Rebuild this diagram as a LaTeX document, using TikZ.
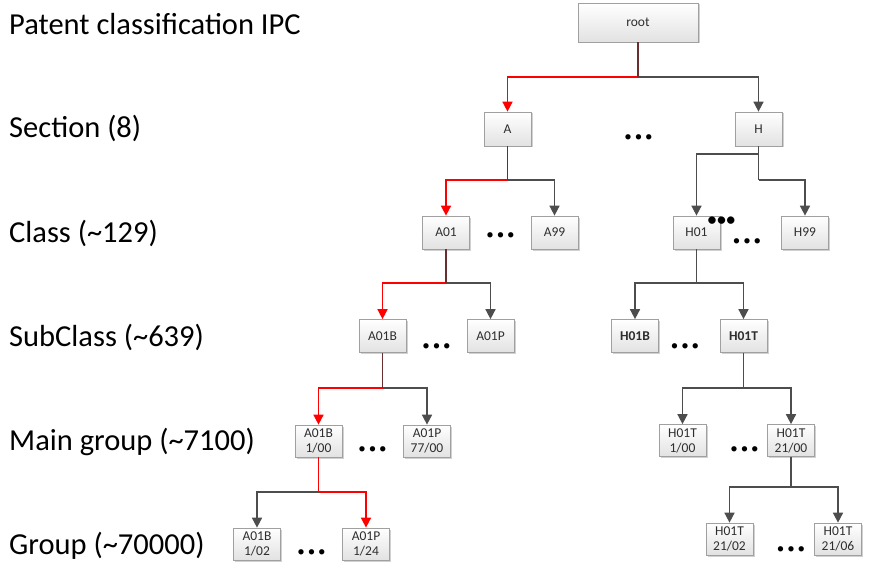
\documentclass[tikz,border=0pt]{standalone}
\usepackage{fontspec}
\setmainfont{Carlito}
\usetikzlibrary{arrows.meta,shadows}
\definecolor{linegray}{HTML}{4D4D4D}
\definecolor{pathred}{HTML}{FF0000}
\definecolor{stembrown}{HTML}{6A2E2E}
\definecolor{boxborder}{HTML}{A0A0A0}
\definecolor{boxbottom}{HTML}{E2E2E2}
\definecolor{boxtext}{HTML}{2E2E2E}
\begin{document}
\begin{tikzpicture}[x=1pt,y=-1pt,
  box/.style={draw=boxborder, line width=0.7pt, top color=white, bottom color=boxbottom,
    drop shadow={shadow xshift=1.5pt, shadow yshift=-1.5pt, fill=black!30, opacity=0.6},
    minimum width=47pt, minimum height=33pt, inner sep=1pt, align=center,
    font=\fontsize{13.5}{15}\selectfont, text=boxtext},
  lvl/.style={anchor=base west, inner sep=0pt, font=\fontsize{30.5}{32}\selectfont},
  dotsnode/.style={inner sep=0pt, font=\fontsize{15}{15}\selectfont},
  bigdots/.style={inner sep=0pt, font=\fontsize{21}{21}\selectfont},
  gline/.style={draw=linegray, line width=1.6pt},
  garr/.style={gline, -{Triangle[width=10pt,length=10pt]}},
  rline/.style={draw=pathred, line width=1.6pt},
  rarr/.style={rline, -{Triangle[width=10pt,length=10pt]}},
  bline/.style={draw=stembrown, line width=1.6pt}]
\useasboundingbox (0,0) rectangle (875,572);

% level labels
\node[lvl] (lblipc) at (9,34.5) {Patent classification IPC};
\node[lvl] (lblsec) at (9,138) {Section (8)};
\node[lvl] (lblcls) at (9,242.5) {Class (\textasciitilde129)};
\node[lvl] (lblsub) at (9,346) {SubClass (\textasciitilde639)};
\node[lvl] (lblmain) at (9,450.5) {Main group (\textasciitilde7100)};
\node[lvl] (lblgrp) at (9,554) {Group (\textasciitilde70000)};

% nodes
\node[box, minimum width=120pt, minimum height=39pt] (root) at (638,22.5) {root};
\node[box, minimum height=34pt] (A) at (507.5,129) {A};
\node[box, minimum height=34pt] (H) at (758.5,129) {H};
\node[box] (A01) at (446,232.5) {A01};
\node[box] (A99) at (554.5,232.5) {A99};
\node[box] (H01) at (696.5,232.5) {H01};
\node[box] (H99) at (805,232.5) {H99};
\node[box] (A01B) at (382.5,336) {A01B};
\node[box] (A01P) at (490.5,336) {A01P};
\node[box] (H01B) at (635,336) {\bfseries H01B};
\node[box] (H01T) at (743.5,336) {\bfseries H01T};
\node[box, minimum height=32pt] (A01Bm) at (318.5,441) {A01B\\1/00};
\node[box, minimum height=32pt] (A01Pm) at (427,441) {A01P\\77/00};
\node[box, minimum height=32pt] (H01Tm1) at (682.5,440.5) {H01T\\1/00};
\node[box, minimum height=32pt] (H01Tm21) at (791,440.5) {H01T\\21/00};
\node[box, minimum height=32pt] (A01Bg) at (257,544) {A01B\\1/02};
\node[box, minimum height=32pt] (A01Pg) at (366,544) {A01P\\1/24};
\node[box, minimum height=32pt] (H01Tg2) at (729.5,539) {H01T\\21/02};
\node[box, minimum height=32pt] (H01Tg6) at (838,539) {H01T\\21/06};

% ellipses
\node[dotsnode] (d1) at (638.5,138) {•\hspace{3pt}•\hspace{3pt}•};
\node[dotsnode] (d2) at (500.5,236) {•\hspace{3pt}•\hspace{3pt}•};
\node[bigdots] (d3) at (721.5,222) {•\hspace{-1pt}•\hspace{-1pt}•};
\node[dotsnode] (d4) at (747,242) {•\hspace{3pt}•\hspace{3pt}•};
\node[dotsnode] (d5) at (436.5,347) {•\hspace{3pt}•\hspace{3pt}•};
\node[dotsnode] (d6) at (685,347) {•\hspace{3pt}•\hspace{3pt}•};
\node[dotsnode] (d7) at (372.5,450) {•\hspace{3pt}•\hspace{3pt}•};
\node[dotsnode] (d8) at (744.5,450) {•\hspace{3pt}•\hspace{3pt}•};
\node[dotsnode] (d9) at (311.5,553) {•\hspace{3pt}•\hspace{3pt}•};
\node[dotsnode] (d10) at (791,550) {•\hspace{3pt}•\hspace{3pt}•};

% junctions
\coordinate (jroot) at (638,77);
\coordinate (jA) at (507.5,180);
\coordinate (jH1) at (758.5,154);
\coordinate (jH2) at (758.5,180);
\coordinate (jA01) at (446,283);
\coordinate (jH01) at (696.5,283);
\coordinate (jA01B) at (382.5,388);
\coordinate (jH01T) at (743.5,388);
\coordinate (jA01Bm) at (318.5,492);
\coordinate (jH01Tm) at (791,487);

% connectors
\draw[garr] (jroot) -| (H.north);
\draw[rarr] (jroot) -| (A.north);
\draw[bline] (root.south) -- (jroot);

\draw[garr] (jA) -| (A99.north);
\draw[rarr] (jA) -| (A01.north);
\draw[bline] (A.south) -- (jA);

\draw[gline] (H.south) -- (jH2);
\draw[garr] (jH1) -| (H01.north);
\draw[garr] (jH2) -| (H99.north);

\draw[garr] (jA01) -| (A01P.north);
\draw[rarr] (jA01) -| (A01B.north);
\draw[bline] (A01.south) -- (jA01);

\draw[gline] (H01.south) -- (jH01);
\draw[garr] (jH01) -| (H01B.north);
\draw[garr] (jH01) -| (H01T.north);

\draw[garr] (jA01B) -| (A01Pm.north);
\draw[rarr] (jA01B) -| (A01Bm.north);
\draw[bline] (A01B.south) -- (jA01B);

\draw[gline] (H01T.south) -- (jH01T);
\draw[garr] (jH01T) -| (H01Tm1.north);
\draw[garr] (jH01T) -| (H01Tm21.north);

\draw[garr] (jA01Bm) -| (A01Bg.north);
\draw[rarr] (jA01Bm) -| (A01Pg.north);
\draw[rline] (A01Bm.south) -- (jA01Bm);

\draw[gline] (H01Tm21.south) -- (jH01Tm);
\draw[garr] (jH01Tm) -| (H01Tg2.north);
\draw[garr] (jH01Tm) -| (H01Tg6.north);
\end{tikzpicture}
\end{document}
